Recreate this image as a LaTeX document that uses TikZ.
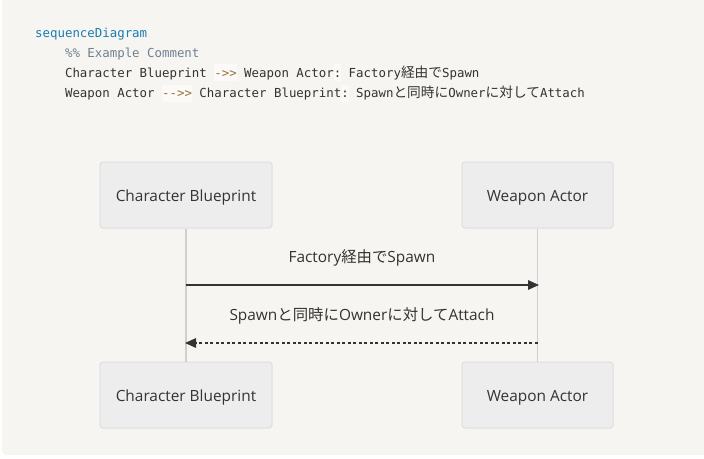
\documentclass[tikz,border=0pt]{standalone}
\usepackage{fontspec}
\setmainfont{Open Sans}
\newfontfamily\jpfont{Noto Sans CJK JP}
\newfontfamily\codefont{DejaVu Sans Mono}
\newcommand\jp[1]{{\jpfont #1}}
\newcommand\cjp[1]{{\jpfont\fontsize{13.7}{14}\selectfont #1}}
\usetikzlibrary{arrows.meta}
\definecolor{bg}{HTML}{F6F5F2}
\definecolor{boxfill}{HTML}{EDEDED}
\definecolor{boxline}{HTML}{DEDEDE}
\definecolor{life}{HTML}{CFCFCF}
\definecolor{ink}{HTML}{333333}
\definecolor{kw}{HTML}{1A7DB0}
\definecolor{cmt}{HTML}{708090}
\definecolor{op}{HTML}{9A6E3A}
\definecolor{opbg}{HTML}{FBFAF8}
\newcommand\hl[1]{{\setlength\fboxsep{0pt}\colorbox{opbg}{\rule[-4pt]{0pt}{17pt}#1}}}
\tikzset{
  actor/.style={draw=boxline, fill=boxfill, line width=1pt, rounded corners=3pt,
    minimum height=66pt, inner sep=0pt, text=ink, text height=13pt, text depth=0pt,
    font=\fontsize{15.4}{18}\selectfont},
  lifeline/.style={draw=life, line width=1.6pt},
  msg/.style={draw=ink, line width=1.5pt, -{Triangle[length=11pt,width=9.5pt]}},
  msgdot/.style={msg, dash pattern=on 3pt off 2.5pt},
  msglabel/.style={text=ink, font=\fontsize{15.4}{18}\selectfont, inner sep=0pt,
    text height=11.5pt, text depth=0pt},
  code/.style={anchor=base west, inner sep=0pt, text=ink, font=\codefont\fontsize{12.4}{14}\selectfont}
}
\begin{document}
\begin{tikzpicture}[x=1pt,y=-1pt]
\useasboundingbox (0,0) rectangle (704,458);
\fill[bg, rounded corners=4pt] (2,-10) rectangle (710,455);

% code block
\node[code] (l1) at (35,37.5) {\textcolor{kw}{sequenceDiagram}};
\node[code] (l2) at (35,57) {\phantom{xxxx}\textcolor{cmt}{\%\% Example Comment}};
\node[code] (l3) at (35,77) {\phantom{xxxx}Character Blueprint \hl{\textcolor{op}{->>}} Weapon Actor\hl{:} Factory\cjp{経由で}Spawn};
\node[code] (l4) at (35,97.5) {\phantom{xxxx}Weapon Actor \hl{\textcolor{op}{-->>}} Character Blueprint\hl{:} Spawn\cjp{と同時に}Owner\cjp{に対して}Attach};

% participants
\node[actor, minimum width=172pt] (cbT) at (186,195) {Character Blueprint};
\node[actor, minimum width=151pt] (waT) at (537.5,195) {Weapon Actor};
\node[actor, minimum width=172pt] (cbB) at (186,395) {Character Blueprint};
\node[actor, minimum width=151pt] (waB) at (537.5,395) {Weapon Actor};

% lifelines
\draw[lifeline] (cbT.south) -- (cbB.north);
\draw[lifeline] (waT.south) -- (waB.north);

% messages
\coordinate (m1a) at (186,285);
\coordinate (m1b) at (539,285);
\coordinate (m2a) at (537.5,343);
\coordinate (m2b) at (185,343);
\draw[msg] (m1a) -- (m1b);
\draw[msgdot] (m2a) -- (m2b);
\node[msglabel] (t1) at (362,257) {Factory\jp{経由で}Spawn};
\node[msglabel] (t2) at (362,314.5) {Spawn\jp{と同時に}Owner\jp{に対して}Attach};
\end{tikzpicture}
\end{document}
